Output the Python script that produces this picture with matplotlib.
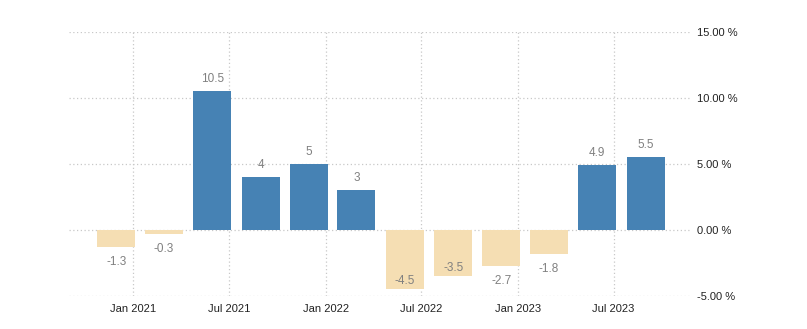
import matplotlib
matplotlib.use("Agg")
from matplotlib import pyplot as plt
import matplotlib.dates as mdates
from datetime import datetime, timedelta

# quarterly values (%)
dates = ["2020-11-30", "2021-02-28", "2021-05-31", "2021-08-31",
         "2021-11-30", "2022-02-28", "2022-05-31", "2022-08-31",
         "2022-11-30", "2023-02-28", "2023-05-31", "2023-08-31"]
values = [-1.3, -0.3, 10.5, 4, 5, 3, -4.5, -3.5, -2.7, -1.8, 4.9, 5.5]
labels = ["-1.3", "-0.3", "10.5", "4", "5", "3", "-4.5", "-3.5", "-2.7", "-1.8", "4.9", "5.5"]

tick_dates = ["2021-01-01", "2021-07-01", "2022-01-01", "2022-07-01", "2023-01-01", "2023-07-01"]
tick_labels = ["Jan 2021", "Jul 2021", "Jan 2022", "Jul 2022", "Jan 2023", "Jul 2023"]
yticks = [-5, 0, 5, 10, 15]

plt.rcParams['font.family'] = ['Liberation Sans', 'DejaVu Sans']

x = [datetime.strptime(d, "%Y-%m-%d") for d in dates]
xt = [datetime.strptime(d, "%Y-%m-%d") for d in tick_dates]
colors = ['#4682b4' if v >= 0 else '#f5deb3' for v in values]

fig = plt.figure(figsize=(8.07, 3.29), dpi=100)
ax = fig.add_axes([0.0855, 0.1003, 0.7695, 0.8024])

ax.bar(x, values, width=72, color=colors, zorder=2)

ylo, yhi = -5, 15
ax.set_ylim(ylo, yhi)
ax.set_xlim(datetime(2020, 9, 1), datetime(2023, 11, 23))

# value labels
px = (yhi - ylo) / 264.0
for xi, v, lab in zip(x, values, labels):
    if v >= 0:
        y = v + 12 * px
    else:
        y = v - 15 * px
        if y - 6 * px < ylo:
            y = v + 8 * px
    ax.text(xi, y, lab, ha='center', va='center', fontsize=8.5, color='#808080', zorder=3)

ax.set_xticks(xt)
ax.set_xticklabels(tick_labels)
ax.set_yticks(yticks)
ax.set_yticklabels(["%.2f %%" % t for t in yticks])
ax.yaxis.tick_right()
for t in ax.get_yticklabels():
    t.set_horizontalalignment('left')

ax.tick_params(axis='both', length=0, labelsize=8, colors='#222222')
ax.tick_params(axis='y', pad=5)
ax.tick_params(axis='x', pad=6)

ax.grid(True, linestyle=(0, (1, 2)), color='#c8c8c8', linewidth=0.9, zorder=0)
for s in ax.spines.values():
    s.set_visible(False)

fig.savefig("out.png", dpi=100)
